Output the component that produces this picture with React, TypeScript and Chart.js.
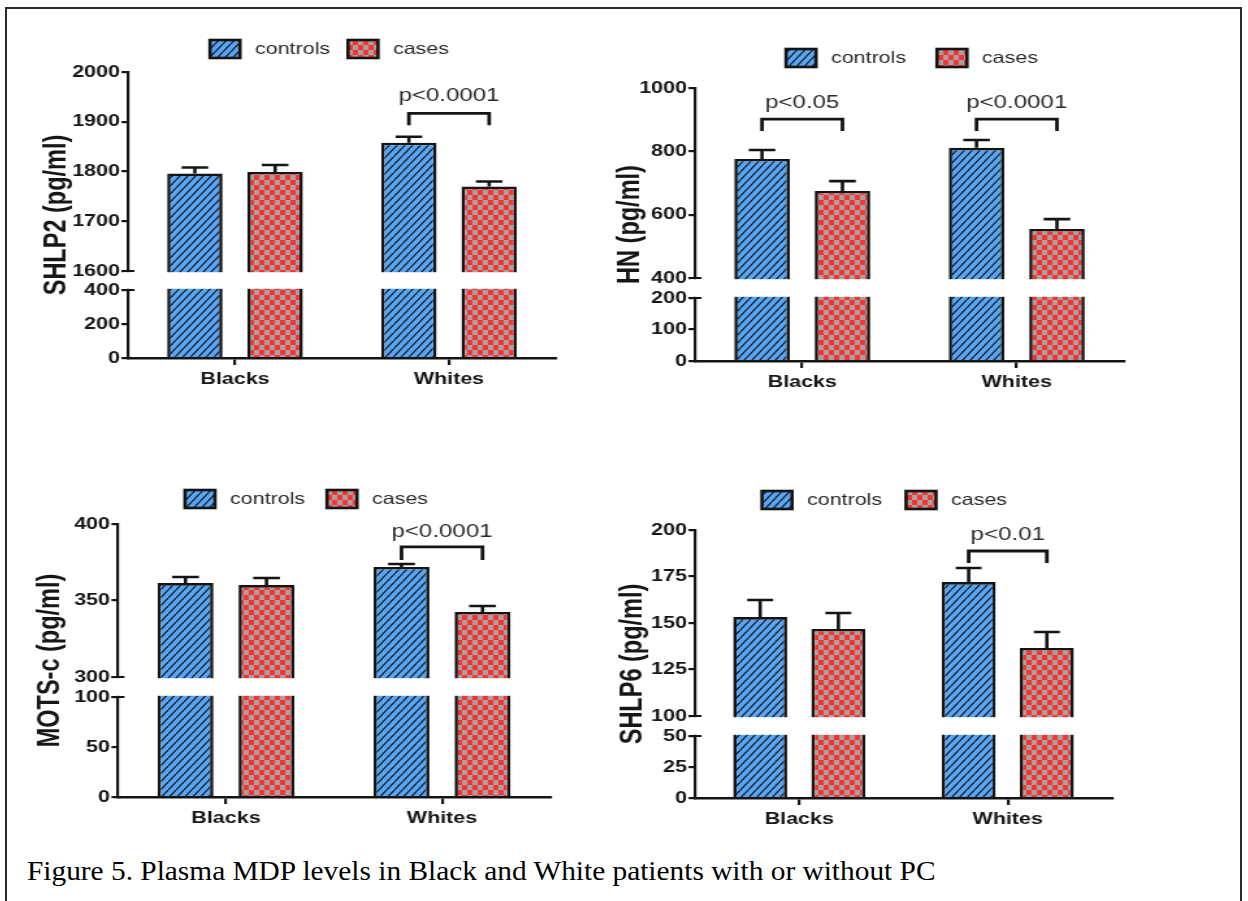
import React, { useEffect, useLayoutEffect, useRef } from 'react';
import { Chart, registerables, LinearScale } from 'chart.js';

Chart.register(...registerables);

// ---------- data ----------
const categories = ['Blacks', 'Whites'];
const seriesLabels = ['controls', 'cases'];

// SHLP2
const shlp2Controls = [1796, 1858];
const shlp2ControlsErr = [12, 12];
const shlp2Cases = [1799, 1770];
const shlp2CasesErr = [14, 10];
const shlp2Ticks = [0, 200, 400, 1600, 1700, 1800, 1900, 2000];
const shlp2Brackets = [{ cat: 1, label: 'p<0.0001', top: 1917, leg: 1893, text: 1952 }];

// HN
const hnControls = [776, 811];
const hnControlsErr = [28, 25];
const hnCases = [675, 555];
const hnCasesErr = [31, 31];
const hnTicks = [0, 100, 200, 400, 600, 800, 1000];
const hnBrackets = [
  { cat: 0, label: 'p<0.05', top: 902, leg: 864, text: 953 },
  { cat: 1, label: 'p<0.0001', top: 902, leg: 864, text: 953 },
];

// MOTS-c
const motsControls = [361.4, 371.9];
const motsControlsErr = [4, 2];
const motsCases = [360.1, 342.5];
const motsCasesErr = [4.6, 3.9];
const motsTicks = [0, 50, 100, 300, 350, 400];
const motsBrackets = [{ cat: 1, label: 'p<0.0001', top: 385, leg: 376.5, text: 395 }];

// SHLP6
const shlp6Controls = [153.2, 172];
const shlp6ControlsErr = [9.2, 7.6];
const shlp6Cases = [146.8, 136.6];
const shlp6CasesErr = [8.6, 8.6];
const shlp6Ticks = [0, 25, 50, 100, 125, 150, 175, 200];
const shlp6Brackets = [{ cat: 1, label: 'p<0.01', top: 188.7, leg: 182.3, text: 197.3 }];

const captionText = 'Figure 5. Plasma MDP levels in Black and White patients with or without PC';

// ---------- style ----------
const S = 1.3; // horizontal stretch of the original figure
const FAMILY = '"Liberation Sans", Arial, Helvetica, sans-serif';
const INK = '#141414';
const BLUE = '#58a7f6';
const RED = '#ff3030';
const GREY = '#a3a3a3';
const XAXIS_H = 40;

// ---------- broken linear scale ----------
class BrokenLinearScale extends LinearScale {
  static id = 'brokenLinear';
  static defaults = {};
  determineDataLimits() {
    const o: any = this.options;
    (this as any).min = o.min;
    (this as any).max = o.max;
  }
  buildTicks() {
    const o: any = this.options;
    return o.tickValues.map((v: number) => ({ value: v }));
  }
  segs() {
    const o: any = this.options;
    const h = (this as any).bottom - (this as any).top;
    const lowH = h * o.lowFrac;
    const gapH = h * o.gapFrac;
    return { lowH, gapH, highH: h - lowH - gapH };
  }
  getPixelForValue(value: number) {
    const o: any = this.options;
    const self: any = this;
    const { lowH, gapH, highH } = this.segs();
    const b = self.bottom;
    if (value <= o.lowMax) return b - ((value - self.min) / (o.lowMax - self.min)) * lowH;
    if (value >= o.highMin) return b - lowH - gapH - ((value - o.highMin) / (self.max - o.highMin)) * highH;
    return b - lowH - ((value - o.lowMax) / (o.highMin - o.lowMax)) * gapH;
  }
  getValueForPixel(pixel: number) {
    const o: any = this.options;
    const self: any = this;
    const { lowH, gapH, highH } = this.segs();
    const d = self.bottom - pixel;
    if (d <= lowH) return self.min + (d / lowH) * (o.lowMax - self.min);
    if (d >= lowH + gapH) return o.highMin + ((d - lowH - gapH) / highH) * (self.max - o.highMin);
    return o.lowMax + ((d - lowH) / gapH) * (o.highMin - o.lowMax);
  }
}
Chart.register(BrokenLinearScale as any);

// ---------- panels ----------
const panels = [
  {
    key: 'shlp2', title: 'SHLP2 (pg/ml)',
    controls: shlp2Controls, controlsErr: shlp2ControlsErr, cases: shlp2Cases, casesErr: shlp2CasesErr,
    ticks: shlp2Ticks, min: 0, max: 2000, lowMax: 400, highMin: 1600, brackets: shlp2Brackets,
    box: { left: 20, top: 20, width: 565, height: 400 },
    area: { left: 128, right: 556, top: 72, bottom: 358 },
    lowPx: 68, gapPx: 19, titleX: 57, legendX: [210, 348], legendTop: 40,
  },
  {
    key: 'hn', title: 'HN (pg/ml)',
    controls: hnControls, controlsErr: hnControlsErr, cases: hnCases, casesErr: hnCasesErr,
    ticks: hnTicks, min: 0, max: 1000, lowMax: 200, highMin: 400, brackets: hnBrackets,
    box: { left: 600, top: 20, width: 565, height: 400 },
    area: { left: 695, right: 1124, top: 88, bottom: 361 },
    lowPx: 63, gapPx: 20, titleX: 630, legendX: [786, 937], legendTop: 49,
  },
  {
    key: 'mots', title: 'MOTS-c (pg/ml)',
    controls: motsControls, controlsErr: motsControlsErr, cases: motsCases, casesErr: motsCasesErr,
    ticks: motsTicks, min: 0, max: 400, lowMax: 100, highMin: 300, brackets: motsBrackets,
    box: { left: 20, top: 470, width: 565, height: 380 },
    area: { left: 118, right: 550, top: 524, bottom: 797 },
    lowPx: 100, gapPx: 20, titleX: 50, legendX: [185, 327], legendTop: 490,
  },
  {
    key: 'shlp6', title: 'SHLP6 (pg/ml)',
    controls: shlp6Controls, controlsErr: shlp6ControlsErr, cases: shlp6Cases, casesErr: shlp6CasesErr,
    ticks: shlp6Ticks, min: 0, max: 200, lowMax: 50, highMin: 100, brackets: shlp6Brackets,
    box: { left: 600, top: 470, width: 565, height: 380 },
    area: { left: 695, right: 1112, top: 530, bottom: 798 },
    lowPx: 62, gapPx: 20, titleX: 633, legendX: [762, 906], legendTop: 491,
  },
];

function makeStripe(ctx: CanvasRenderingContext2D) {
  const w = 6, h = 8;
  const c = document.createElement('canvas');
  c.width = w; c.height = h;
  const g = c.getContext('2d')!;
  g.fillStyle = BLUE;
  g.fillRect(0, 0, w, h);
  g.strokeStyle = '#181820';
  g.lineWidth = 1.25;
  g.beginPath();
  for (const dx of [-w, 0, w]) { g.moveTo(dx, h); g.lineTo(dx + w, 0); }
  g.stroke();
  return ctx.createPattern(c, 'repeat')!;
}

function makeChecker(ctx: CanvasRenderingContext2D) {
  const w = 8, h = 10;
  const c = document.createElement('canvas');
  c.width = w; c.height = h;
  const g = c.getContext('2d')!;
  g.fillStyle = GREY;
  g.fillRect(0, 0, w, h);
  g.fillStyle = RED;
  g.fillRect(0, 0, w / 2, h / 2);
  g.fillRect(w / 2, h / 2, w / 2, h / 2);
  return ctx.createPattern(c, 'repeat')!;
}

function Panel({ cfg }: { cfg: any }) {
  const ref = useRef<HTMLCanvasElement>(null);
  const iw = Math.round(cfg.box.width / S);
  const ih = cfg.box.height;

  useEffect(() => {
    const canvas = ref.current!;
    const ctx0 = canvas.getContext('2d')!;
    const stripe = makeStripe(ctx0);
    const checker = makeChecker(ctx0);
    const { box, area } = cfg;
    const axisW = (area.left - box.left) / S;
    const padRight = iw - (area.right - box.left) / S;
    const padTop = area.top - box.top;
    const padBottom = ih - (area.bottom - box.top) - XAXIS_H;
    const total = area.bottom - area.top;
    const titleSize = 23.5;
    const titlePad = (cfg.titleX - box.left) / S - (titleSize * 1.2) / 2;
    const values = [cfg.controls, cfg.cases];
    const errs = [cfg.controlsErr, cfg.casesErr];

    const decor = {
      id: 'decor',
      afterDatasetsDraw(chart: any) {
        const ctx = chart.ctx;
        const y = chart.scales.y;
        const ca = chart.chartArea;
        ctx.save();
        ctx.strokeStyle = INK;
        ctx.lineWidth = 2.6;
        // error bars (mean + SEM)
        values.forEach((vals: number[], di: number) => {
          const meta = chart.getDatasetMeta(di);
          meta.data.forEach((bar: any, i: number) => {
            const top = y.getPixelForValue(vals[i] + errs[di][i]);
            const half = bar.width * 0.24;
            ctx.beginPath();
            ctx.moveTo(bar.x, bar.y);
            ctx.lineTo(bar.x, top);
            ctx.moveTo(bar.x - half, top);
            ctx.lineTo(bar.x + half, top);
            ctx.stroke();
          });
        });
        // significance brackets
        cfg.brackets.forEach((b: any) => {
          const a = chart.getDatasetMeta(0).data[b.cat];
          const c = chart.getDatasetMeta(1).data[b.cat];
          const yt = y.getPixelForValue(b.top);
          const yl = y.getPixelForValue(b.leg);
          ctx.lineJoin = 'miter';
          ctx.lineWidth = 2.8;
          ctx.beginPath();
          ctx.moveTo(a.x, yl);
          ctx.lineTo(a.x, yt);
          ctx.lineTo(c.x, yt);
          ctx.lineTo(c.x, yl);
          ctx.stroke();
          ctx.font = `18.5px ${FAMILY}`;
          ctx.fillStyle = '#2a2a2a';
          ctx.textAlign = 'center';
          ctx.textBaseline = 'middle';
          ctx.fillText(b.label, (a.x + c.x) / 2, y.getPixelForValue(b.text));
        });
        // axis break gap
        const pHigh = y.getPixelForValue(cfg.highMin);
        const pLow = y.getPixelForValue(cfg.lowMax);
        ctx.fillStyle = '#fff';
        ctx.fillRect(ca.left - 3, pHigh + 1.2, ca.right - ca.left + 6, pLow - pHigh - 2.4);
        ctx.lineWidth = 2.2;
        ctx.beginPath();
        [pHigh, pLow].forEach((p: number) => { ctx.moveTo(ca.left - 5, p); ctx.lineTo(ca.left + 5, p); });
        ctx.stroke();
        // legend
        chart.data.datasets.forEach((ds: any, i: number) => {
          const bx = (cfg.legendX[i] - box.left) / S;
          const by = cfg.legendTop - box.top;
          const bw = 30 / S, bh = 18;
          ctx.fillStyle = ds.backgroundColor;
          ctx.fillRect(bx, by, bw, bh);
          ctx.lineWidth = 2.6;
          ctx.strokeStyle = INK;
          ctx.strokeRect(bx, by, bw, bh);
          ctx.fillStyle = '#2a2a2a';
          ctx.font = `16.5px ${FAMILY}`;
          ctx.textAlign = 'left';
          ctx.textBaseline = 'middle';
          ctx.fillText(ds.label, bx + 45 / S, by + bh / 2 + 0.5);
        });
        ctx.restore();
      },
    };

    const tickFont = { size: 16.5, weight: 'bold' as const, family: FAMILY };
    const chart = new Chart(canvas, {
      type: 'bar',
      data: {
        labels: categories,
        datasets: [
          {
            label: seriesLabels[0], data: cfg.controls, backgroundColor: stripe,
            borderColor: INK, borderWidth: 2.6, borderSkipped: 'start',
            categoryPercentage: 0.75, barPercentage: 0.69,
          },
          {
            label: seriesLabels[1], data: cfg.cases, backgroundColor: checker,
            borderColor: INK, borderWidth: 2.6, borderSkipped: 'start',
            categoryPercentage: 0.75, barPercentage: 0.69,
          },
        ],
      },
      options: {
        responsive: false,
        animation: false,
        events: [],
        layout: { padding: { left: 0, right: padRight, top: padTop, bottom: padBottom } },
        plugins: { legend: { display: false }, tooltip: { enabled: false }, title: { display: false } },
        scales: {
          x: {
            type: 'category',
            offset: true,
            grid: { display: true, drawOnChartArea: false, drawTicks: true, tickLength: 7, offset: false, color: INK, lineWidth: 2.2 },
            border: { display: true, color: INK, width: 2.6 },
            ticks: { color: '#161616', font: tickFont, padding: 5, autoSkip: false, maxRotation: 0 },
            afterFit: (s: any) => { s.height = XAXIS_H; },
          },
          y: {
            type: 'brokenLinear',
            min: cfg.min, max: cfg.max,
            tickValues: cfg.ticks, lowMax: cfg.lowMax, highMin: cfg.highMin,
            lowFrac: cfg.lowPx / total, gapFrac: cfg.gapPx / total,
            grid: { display: true, drawOnChartArea: false, drawTicks: true, tickLength: 5, color: INK, lineWidth: 2.2 },
            border: { display: true, color: INK, width: 2.2 },
            ticks: { color: '#161616', font: tickFont, padding: 1.2, autoSkip: false, callback: (v: any) => String(v) },
            title: {
              display: true, text: cfg.title, color: '#161616',
              font: { size: titleSize, weight: 'bold', family: FAMILY },
              padding: { top: titlePad, bottom: 0 },
            },
            afterFit: (s: any) => { s.width = axisW; },
          } as any,
        },
      },
      plugins: [decor],
    } as any);
    return () => chart.destroy();
  }, [cfg]);

  return (
    <canvas
      ref={ref}
      width={iw}
      height={ih}
      style={{
        position: 'absolute', left: cfg.box.left, top: cfg.box.top,
        width: iw, height: ih, transform: `scaleX(${S})`, transformOrigin: '0 0',
      }}
    />
  );
}

function Caption() {
  const ref = useRef<HTMLDivElement>(null);
  useLayoutEffect(() => {
    const el = ref.current!;
    const w = el.offsetWidth;
    if (w > 0) el.style.transform = `scaleX(${908 / w})`;
  }, []);
  return (
    <div
      ref={ref}
      style={{
        position: 'absolute', left: 27, top: 858, whiteSpace: 'nowrap',
        fontFamily: '"Liberation Serif", "Times New Roman", serif', fontSize: 27, lineHeight: '27px',
        color: '#000', transformOrigin: '0 0',
      }}
    >
      {captionText}
    </div>
  );
}

export default function App() {
  return (
    <div style={{ position: 'absolute', left: 0, top: 0, width: 1248, height: 901, overflow: 'hidden', background: '#fff' }}>
      <div style={{ position: 'absolute', left: 5, top: 7, width: 1237, height: 1000, border: '2px solid #2a2a2a', boxSizing: 'border-box' }} />
      {panels.map((p) => <Panel key={p.key} cfg={p} />)}
      <Caption />
    </div>
  );
}
